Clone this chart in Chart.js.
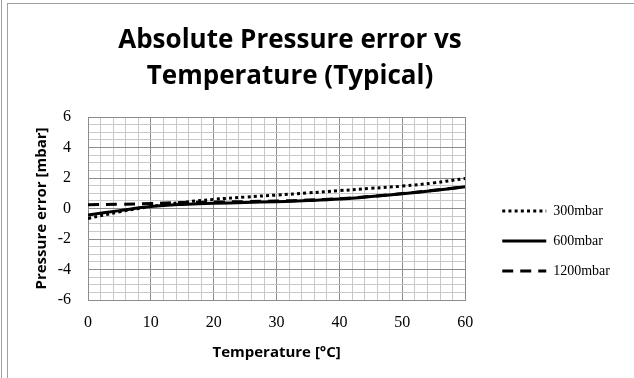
<!DOCTYPE html>
<html><head><meta charset="utf-8">
<script src="https://cdn.jsdelivr.net/npm/chart.js@4"></script>
<style>
html,body{margin:0;padding:0;background:#fff;}
#wrap{position:relative;width:634px;height:378px;overflow:hidden;background:#fff;}
canvas{position:absolute;left:0;top:0;}
.fr{position:absolute;background:#a0a0a0;}
</style></head><body>
<div id="wrap">
<canvas id="c" width="634" height="378"></canvas>
<div class="fr" style="left:1px;top:0;width:1px;height:378px"></div>
<div class="fr" style="left:7px;top:3px;width:1px;height:375px"></div>
<div class="fr" style="left:7px;top:3px;width:627px;height:1px"></div>
</div>
<script>
const temperatures = [0, 5, 10, 15, 20, 25, 30, 35, 40, 45, 50, 55, 60];
const err300mbar  = [-0.65, -0.22, 0.13, 0.40, 0.60, 0.75, 0.88, 1.02, 1.17, 1.32, 1.47, 1.68, 1.97];
const err600mbar  = [-0.43, -0.14, 0.13, 0.27, 0.34, 0.39, 0.45, 0.52, 0.62, 0.78, 0.97, 1.18, 1.42];
const err1200mbar = [0.25, 0.28, 0.33, 0.39, 0.42, 0.45, 0.49, 0.55, 0.64, 0.80, 0.98, 1.20, 1.43];
const seriesLabels = ['300mbar', '600mbar', '1200mbar'];
const xTickLabels = [0, 10, 20, 30, 40, 50, 60];
const yTickLabels = [-6, -4, -2, 0, 2, 4, 6];

const toPts = arr => temperatures.map((t, i) => ({x: t, y: arr[i]}));
const majorGrid = '#8c8c8c', minorGrid = '#c8c8c8';

// keep the two-line title centred where the reference has it
const titleCentre = {
  id: 'titleCentre',
  afterLayout(chart) {
    const t = chart.titleBlock;
    if (t) { t.left = 0; t.right = 580; t.width = 580; }
  }
};

new Chart(document.getElementById('c'), {
  type: 'line',
  data: {
    datasets: [
      {label: seriesLabels[0], data: toPts(err300mbar), borderColor: '#000', borderWidth: 3, borderDash: [3, 3.2], pointRadius: 0, tension: 0.4, fill: false},
      {label: seriesLabels[1], data: toPts(err600mbar), borderColor: '#000', borderWidth: 3, pointRadius: 0, tension: 0.4, fill: false},
      {label: seriesLabels[2], data: toPts(err1200mbar), borderColor: '#000', borderWidth: 3, borderDash: [11, 7], pointRadius: 0, tension: 0.4, fill: false}
    ]
  },
  plugins: [titleCentre],
  options: {
    responsive: false,
    animation: false,
    layout: {padding: {left: 30, right: 14, top: 0, bottom: 0}},
    plugins: {
      title: {
        display: true,
        text: ['Absolute Pressure error vs', 'Temperature (Typical)'],
        color: '#000',
        font: {family: 'Open Sans', size: 26, weight: 'bold', lineHeight: '36px'},
        padding: {top: 23, bottom: 22}
      },
      legend: {
        position: 'right',
        align: 'center',
        fullSize: false,
        maxWidth: 136,
        title: {display: true, text: '', padding: {top: 55, bottom: 0}, font: {size: 10, lineHeight: 1}},
        labels: {
          usePointStyle: true, pointStyleWidth: 44, padding: 16,
          color: '#000', font: {family: 'Liberation Serif', size: 14},
          generateLabels: chart => chart.data.datasets.map((ds, i) => ({
            text: ds.label,
            fillStyle: ds.borderColor,
            strokeStyle: ds.borderColor,
            fontColor: '#000',
            lineWidth: ds.borderWidth,
            lineDash: ds.borderDash || [],
            lineCap: 'butt',
            pointStyle: 'line',
            hidden: false,
            datasetIndex: i
          }))
        }
      },
      tooltip: {enabled: false}
    },
    scales: {
      x: {
        type: 'linear', min: 0, max: 60,
        ticks: {
          stepSize: 2, autoSkip: false, maxRotation: 0, padding: 13, color: '#000',
          font: {family: 'Liberation Serif', size: 16},
          callback: v => xTickLabels.includes(v) ? String(v) : ''
        },
        grid: {drawTicks: false, color: c => (c.tick && xTickLabels.includes(c.tick.value)) ? majorGrid : minorGrid},
        border: {color: majorGrid},
        title: {display: true, text: 'Temperature [°C]', color: '#000', font: {family: 'Open Sans', size: 15, weight: 'bold'}, padding: {top: 0, bottom: 16}},
        afterFit: s => { s.height = 78; }
      },
      y: {
        min: -6, max: 6,
        ticks: {
          stepSize: 0.5, autoSkip: false, maxTicksLimit: 100, padding: 17, color: '#000',
          font: {family: 'Liberation Serif', size: 16},
          callback: v => yTickLabels.includes(v) ? String(v) : ''
        },
        grid: {drawTicks: false, color: c => (c.tick && yTickLabels.includes(c.tick.value)) ? majorGrid : minorGrid},
        border: {color: majorGrid},
        title: {display: true, text: 'Pressure error [mbar]', color: '#000', font: {family: 'Open Sans', size: 15, weight: 'bold'}, padding: {top: 3, bottom: 0}},
        afterFit: s => { s.width = 58; }
      },
      ySpacer: {
        position: 'right', min: 0, max: 1, display: true,
        ticks: {display: false}, grid: {display: false}, border: {display: false},
        afterFit: s => { s.width = 21; }
      }
    }
  }
});
</script>
</body></html>
